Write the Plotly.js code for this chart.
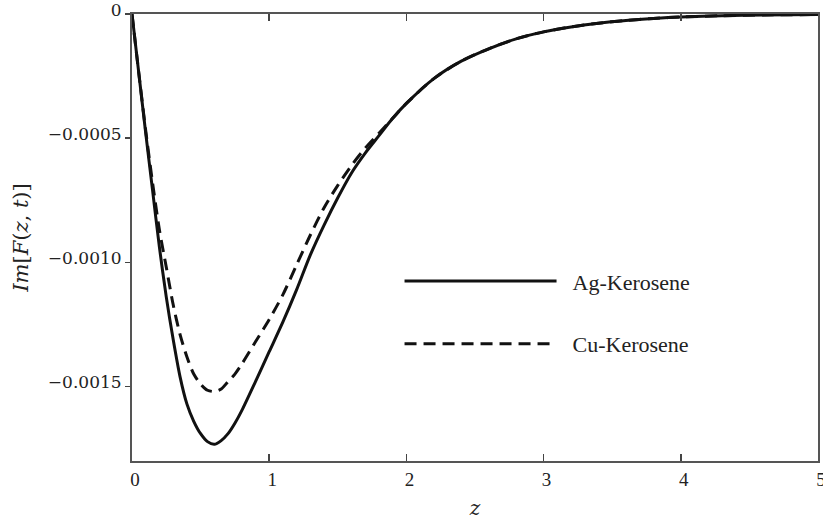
<!DOCTYPE html>
<html>
<head>
<meta charset="utf-8">
<script src="https://cdn.plot.ly/plotly-3.0.1.min.js"></script>
<style>html,body{margin:0;padding:0;background:#fff;}#chart{width:823px;height:530px;}</style>
</head>
<body>
<div id="chart"></div>
<script>
const zAg = [0, 0.05, 0.1, 0.15, 0.2, 0.25, 0.3, 0.35, 0.4, 0.45, 0.5, 0.55, 0.6, 0.65, 0.7, 0.75, 0.8, 0.9, 1.0, 1.1, 1.2, 1.3, 1.4, 1.5, 1.6, 1.7, 1.8, 1.9, 2.0, 2.2, 2.4, 2.6, 2.8, 3.0, 3.2, 3.4, 3.6, 3.8, 4.0, 4.3, 4.6, 5.0];
const imAg = [0, -0.00024, -0.00048, -0.00071, -0.00094, -0.00114, -0.00131, -0.00146, -0.00157, -0.00164, -0.00169, -0.001722, -0.001733, -0.001718, -0.00169, -0.001648, -0.001597, -0.00148, -0.00136, -0.00124, -0.00111, -0.00097, -0.00085, -0.00074, -0.00064, -0.00056, -0.00049, -0.00042, -0.00036, -0.00026, -0.00019, -0.00014, -0.000100, -0.000072, -0.000052, -0.000037, -0.000026, -0.000018, -0.000012, -0.000007, -0.000004, -0.000002];
const zCu = [0, 0.05, 0.1, 0.15, 0.2, 0.25, 0.3, 0.35, 0.4, 0.45, 0.5, 0.55, 0.6, 0.65, 0.7, 0.75, 0.8, 0.9, 1.0, 1.1, 1.2, 1.3, 1.4, 1.5, 1.6, 1.7, 1.8, 1.9, 2.0, 2.2, 2.4, 2.6, 2.8, 3.0, 3.2, 3.4, 3.6, 3.8, 4.0, 4.3, 4.6, 5.0];
const imCu = [0, -0.00024, -0.00047, -0.00068, -0.00087, -0.00102, -0.00117, -0.00129, -0.00138, -0.00145, -0.00149, -0.001515, -0.00152, -0.00151, -0.00148, -0.00145, -0.00141, -0.00132, -0.00123, -0.00113, -0.00101, -0.00089, -0.00078, -0.00069, -0.00061, -0.00054, -0.00048, -0.00042, -0.00036, -0.00026, -0.00019, -0.00014, -0.000100, -0.000072, -0.000052, -0.000037, -0.000026, -0.000018, -0.000012, -0.000007, -0.000004, -0.000002];
const xTickVals = [0, 1, 2, 3, 4, 5];
const xTickText = ['0', '1', '2', '3', '4', '5'];
const yTickVals = [0, -0.0005, -0.001, -0.0015];
const yTickText = ['0', '\u22120.0005', '\u22120.0010', '\u22120.0015'];
const seriesNames = ['\u2002Ag-Kerosene', '\u2002Cu-Kerosene'];

const serif = 'Liberation Serif, Times New Roman, serif';
const traces = [
  {x: zAg, y: imAg, type: 'scatter', mode: 'lines', name: seriesNames[0], line: {color: '#111', width: 3, shape: 'spline', smoothing: 0.8}, legend: 'legend'},
  {x: zCu, y: imCu, type: 'scatter', mode: 'lines', name: seriesNames[1], line: {color: '#111', width: 3, dash: '12px,7px', shape: 'spline', smoothing: 0.8}, legend: 'legend2'}
];
const legendCommon = {xanchor: 'left', yanchor: 'middle', bgcolor: 'rgba(0,0,0,0)', borderwidth: 0, itemwidth: 152, font: {family: serif, size: 22, color: '#222'}};
const layout = {
  width: 823, height: 530,
  margin: {l: 132, r: 5, t: 14, b: 69},
  paper_bgcolor: '#fff', plot_bgcolor: '#fff',
  showlegend: true,
  legend: Object.assign({x: 0.39, y: 0.402}, legendCommon),
  legend2: Object.assign({x: 0.39, y: 0.262}, legendCommon),
  xaxis: {
    range: [0, 5], tickvals: xTickVals, ticktext: xTickText,
    ticks: 'inside', ticklen: 7, tickwidth: 1.5, tickcolor: '#444',
    showline: true, linecolor: '#555', linewidth: 2, mirror: 'ticks',
    showgrid: false, zeroline: false,
    tickfont: {family: serif, size: 19, color: '#222'},
    ticklabelshift: 3, ticklabeloverflow: 'allow',
    title: {text: '<i>z</i>', font: {family: 'DejaVu Serif, serif', size: 20, color: '#222'}, standoff: 12}
  },
  yaxis: {
    range: [-0.0018, 0], tickvals: yTickVals, ticktext: yTickText,
    ticks: 'outside', ticklen: 5, tickwidth: 1.5, tickcolor: '#444',
    showline: true, linecolor: '#555', linewidth: 2, mirror: true,
    showgrid: false, zeroline: false,
    tickfont: {family: 'DejaVu Serif, serif', size: 17, color: '#222'},
    ticklabelshift: -4, ticklabeloverflow: 'allow',
    title: {text: '<i>Im</i>[<i>F</i>(<i>z</i>, <i>t</i>)]', font: {family: 'DejaVu Serif, serif', size: 21, color: '#222'}, standoff: 14}
  }
};
Plotly.newPlot('chart', traces, layout, {displayModeBar: false, staticPlot: true});
</script>
</body>
</html>
